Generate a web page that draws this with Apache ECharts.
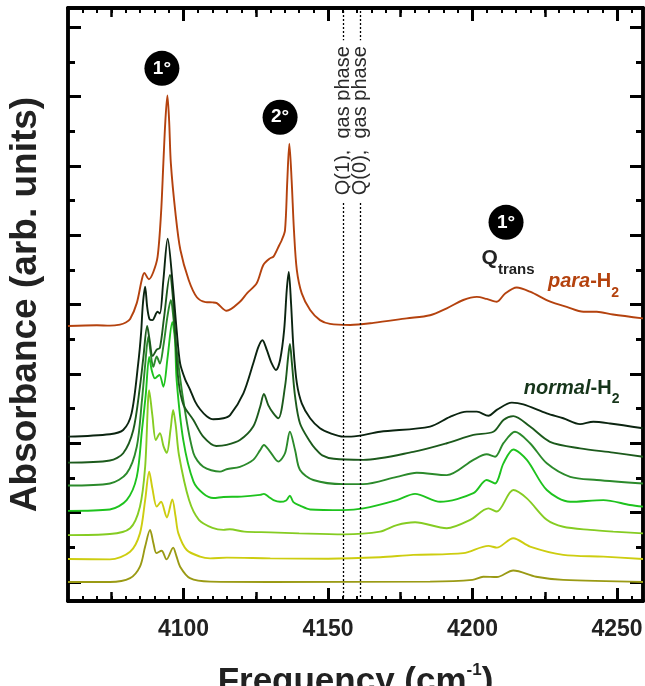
<!DOCTYPE html>
<html>
<head>
<meta charset="utf-8">
<script src="https://cdn.jsdelivr.net/npm/echarts@6.0.0/dist/echarts.min.js"></script>
<style>
html, body { margin: 0; padding: 0; background: #fff; }
#chart { width: 645px; height: 686px; }
</style>
</head>
<body>
<div id="chart"></div>
<script>
// spectra: [frequency (cm-1), absorbance incl. vertical offset]
var paraH2 = [[4060,7.38],[4070,7.40],[4074.5,7.39],[4078,7.42],[4080,7.48],[4081.5,7.58],[4083.8,8.04],[4085.5,8.70],[4086.4,8.91],[4088,8.73],[4089.5,8.93],[4091,9.37],[4092.2,10.63],[4093,12.07],[4093.7,13.3],[4094.4,14.03],[4095,13.3],[4095.6,12.07],[4097.2,10.63],[4098.9,9.57],[4101.8,8.70],[4104.6,8.21],[4107.6,8.07],[4110,8.06],[4111.5,8.04],[4114.9,7.82],[4119.5,8.08],[4122,8.33],[4125.3,8.61],[4127.6,9.14],[4129.9,9.33],[4131.1,9.38],[4133.1,9.71],[4134,9.86],[4135.1,10.14],[4135.9,11.58],[4136.6,12.64],[4137.4,11.58],[4138.2,10.14],[4139.2,8.99],[4140.9,8.32],[4143.8,7.84],[4147.2,7.55],[4150.7,7.44],[4157.6,7.41],[4165.7,7.47],[4177.2,7.60],[4185.3,7.69],[4191.1,7.89],[4196.8,8.13],[4201.5,8.22],[4204.9,8.16],[4208.4,8.08],[4211.3,8.32],[4215.3,8.49],[4219.9,8.37],[4226.9,8.08],[4232.6,7.93],[4238.4,7.79],[4243,7.79],[4248.6,7.71],[4259,7.60]];

var normal1 = [[4060,4.19],[4074.5,4.26],[4079.1,4.38],[4082,4.86],[4084.3,6.30],[4085.3,7.18],[4085.9,8.0],[4086.7,8.51],[4087.4,7.93],[4088.2,7.58],[4089.2,7.55],[4091,7.79],[4091.8,7.74],[4093,8.70],[4094.5,9.90],[4096.1,8.72],[4097.6,7.26],[4098.8,6.30],[4100.5,5.85],[4102.2,5.55],[4104,5.2],[4105.7,4.98],[4108,4.78],[4110.3,4.69],[4113.8,4.72],[4116.1,4.81],[4120.7,5.44],[4124.1,6.30],[4125.9,6.78],[4127.3,6.97],[4128.8,6.69],[4130.5,6.30],[4132,6.11],[4133.4,6.40],[4134.8,7.26],[4135.7,8.41],[4136.4,8.94],[4137.2,8.03],[4138,6.78],[4139.2,5.73],[4140.9,5.15],[4143.8,4.72],[4147.2,4.43],[4150.7,4.29],[4155.3,4.19],[4158,4.19],[4168,4.33],[4185.3,4.48],[4192.2,4.76],[4198,4.91],[4201.5,4.91],[4205.5,4.79],[4208.4,4.96],[4213.6,5.17],[4217.6,5.12],[4225.7,4.86],[4231.4,4.72],[4237.2,4.55],[4241.8,4.62],[4247.6,4.57],[4259,4.43]];

var normal2 = [[4060,3.44],[4074.5,3.50],[4079.1,3.71],[4082.6,4.38],[4084.9,5.63],[4086.1,6.49],[4087.4,7.38],[4088.2,7.0],[4089.3,6.51],[4090.7,6.70],[4091.8,6.75],[4093.2,7.6],[4095.3,8.85],[4096.2,8.3],[4097,7.26],[4098.2,5.82],[4100,5.1],[4103.4,4.67],[4106.8,4.19],[4111.3,3.92],[4114.9,3.95],[4119.5,4.09],[4124.1,4.48],[4126.5,5.05],[4127.8,5.42],[4129.3,5.10],[4131.1,4.86],[4132.8,4.72],[4135.1,5.63],[4136.2,6.5],[4136.8,6.86],[4137.5,6.3],[4138.6,5.34],[4140.3,4.57],[4143.8,4.04],[4145.5,3.85],[4148,3.65],[4152,3.55],[4162.2,3.52],[4179.5,3.75],[4191.1,4.00],[4200.3,4.24],[4207.2,4.33],[4210.7,4.67],[4214.1,4.78],[4219.9,4.48],[4226.8,4.04],[4237.2,3.85],[4248.7,3.73],[4259,3.61]];

var normal3 = [[4060,2.78],[4074.5,2.84],[4080.3,3.13],[4083.8,3.90],[4085.6,5.24],[4086.7,6.25],[4087.8,7.07],[4088.6,6.6],[4089.5,6.20],[4090.7,6.50],[4091.8,6.3],[4093,6.8],[4094.5,7.7],[4095.6,8.13],[4096.5,7.6],[4097.6,6.69],[4099.9,5.24],[4103.4,3.72],[4106.8,3.32],[4112.6,3.18],[4114.9,3.25],[4119.5,3.32],[4124.1,3.52],[4126.5,3.8],[4127.8,3.95],[4129.9,3.76],[4132.8,3.47],[4135.1,3.71],[4136.8,4.33],[4138.6,3.80],[4140.3,3.23],[4144.9,2.94],[4155.3,2.82],[4162.2,2.82],[4173.8,3.03],[4180.7,3.15],[4191.1,3.08],[4200.3,3.52],[4204.9,3.68],[4207.8,3.61],[4210.7,4.00],[4214.7,4.33],[4219.9,4.00],[4225.7,3.42],[4233.8,3.03],[4243,2.94],[4259,2.84]];

var normal4 = [[4060,2.05],[4074.5,2.09],[4080.3,2.36],[4083.8,3.03],[4085.6,4.38],[4086.9,5.39],[4088.1,6.49],[4089,6.1],[4090.1,5.87],[4091.6,5.97],[4093,5.63],[4094.5,6.5],[4096.1,7.49],[4097,7.0],[4097.6,5.82],[4099.9,4.09],[4103.4,2.9],[4106.8,2.55],[4110.3,2.42],[4113.8,2.45],[4120,2.46],[4126.5,2.51],[4127.8,2.54],[4129.5,2.45],[4131.1,2.36],[4133.4,2.31],[4135.5,2.35],[4136.8,2.49],[4138,2.3],[4140.3,2.20],[4143.8,2.09],[4155.3,2.07],[4162.2,2.12],[4173.8,2.36],[4180.1,2.54],[4188.8,2.31],[4200.3,2.56],[4204.9,2.94],[4207.8,2.84],[4210.7,3.42],[4214.1,3.82],[4218.8,3.52],[4225.7,2.65],[4233.8,2.31],[4245.3,2.36],[4254.5,2.22],[4259,2.17]];

var normal5 = [[4060,1.35],[4074.5,1.38],[4081.5,1.55],[4084.9,2.17],[4086.7,3.32],[4088.1,5.53],[4089.2,4.8],[4090.4,4.09],[4091.8,4.29],[4093.1,3.9],[4094.2,3.72],[4095.5,4.4],[4096.4,4.96],[4097.3,4.5],[4098.4,3.66],[4101.9,2.36],[4105.3,1.79],[4110,1.56],[4113.8,1.50],[4116,1.52],[4121,1.45],[4130,1.43],[4140,1.40],[4155.3,1.37],[4168,1.45],[4173.8,1.64],[4180.1,1.72],[4191.1,1.55],[4199.2,1.79],[4205.5,2.12],[4208.4,2.03],[4214.1,2.65],[4218.8,2.41],[4225.7,1.79],[4231.4,1.59],[4240.7,1.50],[4248.7,1.45],[4259,1.40]];

var normal6 = [[4060,0.66],[4074.5,0.65],[4081.5,0.87],[4084.9,1.40],[4086.7,2.36],[4088.1,3.18],[4089.2,2.7],[4090.7,2.17],[4092.2,2.31],[4094.2,1.86],[4096.1,2.38],[4097.2,1.9],[4098.2,1.40],[4101.1,0.92],[4105.7,0.73],[4109.2,0.68],[4115,0.70],[4130,0.68],[4150,0.67],[4168,0.71],[4179.5,0.78],[4196.8,0.83],[4205.5,1.04],[4208.4,0.99],[4214.1,1.26],[4219.9,1.02],[4231.4,0.78],[4245.3,0.73],[4259,0.66]];

var normal7 = [[4060,0.0],[4074.5,0.0],[4081.5,0.11],[4084.9,0.44],[4086.7,1.02],[4088.4,1.50],[4089.6,1.1],[4090.6,0.83],[4092.4,0.90],[4094.1,0.65],[4096.4,0.99],[4097.5,0.75],[4098.8,0.44],[4102.2,0.11],[4109.2,0.01],[4130,0.0],[4185.3,0.01],[4200,0.06],[4203.7,0.15],[4208.4,0.14],[4214.1,0.33],[4222,0.15],[4231.4,0.06],[4259,0.0]];

var normalTraces = [normal1, normal2, normal3, normal4, normal5, normal6, normal7];
var normalColors = ['#0b2410', '#1c5a1c', '#2b8a2b', '#1ec31e', '#85cc22', '#cdcd10', '#9a9a14'];
var paraColor = '#b4420e';

// gas phase Q lines
var gasLines = [4155.25, 4161.17];
var gasLabels = ['Q(1),  gas phase', 'Q(0),  gas phase'];
var gasLabelY = 13.3;

// annotations in data coordinates
var orderMarks = [[4092.5, 14.81, '1°'], [4133.4, 13.40, '2°'], [4211.6, 10.37, '1°']];
var qTransPos = [4212.3, 9.34];
var paraLabelPos = [4238.4, 8.65];
var normalLabelPos = [4234.3, 5.59];

// ticks
var xMajor = [4100, 4150, 4200, 4250];
var xMid = [4075, 4125, 4175, 4225];
var yLong = [0, 2, 4, 6, 8, 10, 12, 14, 16];
var yShort = [1, 3, 5, 7, 9, 11, 13, 15];

var SANS = '"Liberation Sans", Arial, sans-serif';

function xAx(pos, ticks, len, w, labels) {
  var tick = { show: true, inside: true, length: len, lineStyle: { color: '#000', width: w } };
  var ax = {
    type: 'value', position: pos, min: 4060, max: 4259,
    axisLine: { show: true, onZero: false, lineStyle: { color: '#000', width: 3.5 } },
    axisTick: tick,
    splitLine: { show: false },
    axisLabel: { show: false }
  };
  if (ticks) tick.customValues = ticks; else ax.interval = 5;
  if (labels) {
    ax.axisLabel = {
      show: true, customValues: xMajor, margin: 17,
      formatter: function (v) { return String(v); },
      color: '#222', fontFamily: SANS, fontWeight: 'bold', fontSize: 23
    };
    ax.name = '{t|Frequency (cm}{s|-1}{t|)}';
    ax.nameLocation = 'middle';
    ax.nameGap = 61;
    ax.nameTextStyle = {
      rich: {
        t: { fontFamily: SANS, fontWeight: 'bold', fontSize: 35, color: '#222', lineHeight: 40 },
        s: { fontFamily: SANS, fontWeight: 'bold', fontSize: 17, color: '#222', verticalAlign: 'top', lineHeight: 40 }
      }
    };
  }
  return ax;
}

function yAx(pos, ticks, len, named) {
  var ax = {
    type: 'value', position: pos, min: -0.55, max: 16.55,
    axisLine: { show: true, onZero: false, lineStyle: { color: '#000', width: 3.5 } },
    axisTick: { show: true, inside: true, length: len, customValues: ticks, lineStyle: { color: '#000', width: 3 } },
    axisLabel: { show: false },
    splitLine: { show: false }
  };
  if (named) {
    ax.name = 'Absorbance (arb. units)';
    ax.nameLocation = 'middle';
    ax.nameGap = 24;
    ax.nameTextStyle = { fontFamily: SANS, fontWeight: 'bold', fontSize: 37, color: '#222' };
  }
  return ax;
}

var series = [];
series.push({
  type: 'line', data: [], z: 1, silent: true,
  markLine: {
    silent: true, symbol: 'none', animation: false,
    label: { show: false },
    lineStyle: { color: '#000', type: [2, 2], width: 1.3, opacity: 1 },
    data: gasLines.map(function (f) { return { xAxis: f }; })
  }
});
normalTraces.forEach(function (tr, i) {
  series.push({
    type: 'line', data: tr, showSymbol: false, smooth: 0.3, z: 3 + (6 - i) * 0.01,
    lineStyle: { color: normalColors[i], width: 1.9 }, animation: false
  });
});
series.push({
  type: 'line', data: paraH2, showSymbol: false, smooth: 0.3, z: 3,
  lineStyle: { color: paraColor, width: 1.9 }, animation: false
});
// gas phase labels (rotated, white box breaks the dotted line)
series.push({
  type: 'scatter', symbolSize: 0, z: 6, animation: false,
  itemStyle: { opacity: 1 },
  data: gasLines.map(function (f, i) {
    return { value: [f, gasLabelY], label: { formatter: gasLabels[i] } };
  }),
  label: {
    show: true, position: 'inside', rotate: 90, color: '#2a2a2a',
    fontFamily: SANS, fontSize: 20, backgroundColor: '#fff', padding: [0, 6]
  }
});
// 1°/2° markers
series.push({
  type: 'scatter', symbol: 'circle', symbolSize: 35, z: 7, animation: false,
  itemStyle: { color: '#000', opacity: 1 },
  data: orderMarks.map(function (m) { return { value: [m[0], m[1]], label: { formatter: m[2] } }; }),
  label: { show: true, position: 'inside', color: '#fff', fontFamily: SANS, fontWeight: 'bold', fontSize: 19 }
});
// text labels
series.push({
  type: 'scatter', symbolSize: 0, z: 7, animation: false,
  itemStyle: { opacity: 1 },
  data: [
    { value: qTransPos, label: { formatter: '{q|Q}{s|trans}' } },
    { value: paraLabelPos, label: { formatter: '{pi|para}{pb|-H}{ps|2}' } },
    { value: normalLabelPos, label: { formatter: '{ni|normal}{nb|-H}{ns|2}' } }
  ],
  label: {
    show: true, position: 'inside',
    rich: {
      q: { fontFamily: SANS, fontWeight: 'bold', fontSize: 21, color: '#222', lineHeight: 26 },
      s: { fontFamily: SANS, fontWeight: 'bold', fontSize: 15, color: '#222', verticalAlign: 'bottom', lineHeight: 18, padding: [0, 0, -6, 0] },
      pi: { fontFamily: SANS, fontWeight: 'bold', fontStyle: 'italic', fontSize: 20, color: paraColor, lineHeight: 24 },
      pb: { fontFamily: SANS, fontWeight: 'bold', fontSize: 20, color: paraColor, lineHeight: 24 },
      ps: { fontFamily: SANS, fontWeight: 'bold', fontSize: 14, color: paraColor, verticalAlign: 'bottom', lineHeight: 16, padding: [0, 0, -6, 0] },
      ni: { fontFamily: SANS, fontWeight: 'bold', fontStyle: 'italic', fontSize: 20, color: '#16351a', lineHeight: 24 },
      nb: { fontFamily: SANS, fontWeight: 'bold', fontSize: 20, color: '#16351a', lineHeight: 24 },
      ns: { fontFamily: SANS, fontWeight: 'bold', fontSize: 14, color: '#16351a', verticalAlign: 'bottom', lineHeight: 16, padding: [0, 0, -6, 0] }
    }
  }
});

var chart = echarts.init(document.getElementById('chart'), null, { renderer: 'canvas' });
chart.setOption({
  backgroundColor: '#fff',
  animation: false,
  grid: { left: 68, right: 2, top: 8, bottom: 85, containLabel: false, outerBoundsMode: 'none' },
  xAxis: [
    xAx('bottom', xMajor, 13, 3, true),
    xAx('bottom', xMid, 9, 2.5, false),
    xAx('bottom', null, 5, 2, false),
    xAx('top', xMajor, 13, 3, false),
    xAx('top', xMid, 9, 2.5, false),
    xAx('top', null, 5, 2, false)
  ],
  yAxis: [
    yAx('left', yLong, 13, true),
    yAx('left', yShort, 7, false),
    yAx('right', yLong, 13, false),
    yAx('right', yShort, 7, false)
  ],
  series: series
});
</script>
</body>
</html>
